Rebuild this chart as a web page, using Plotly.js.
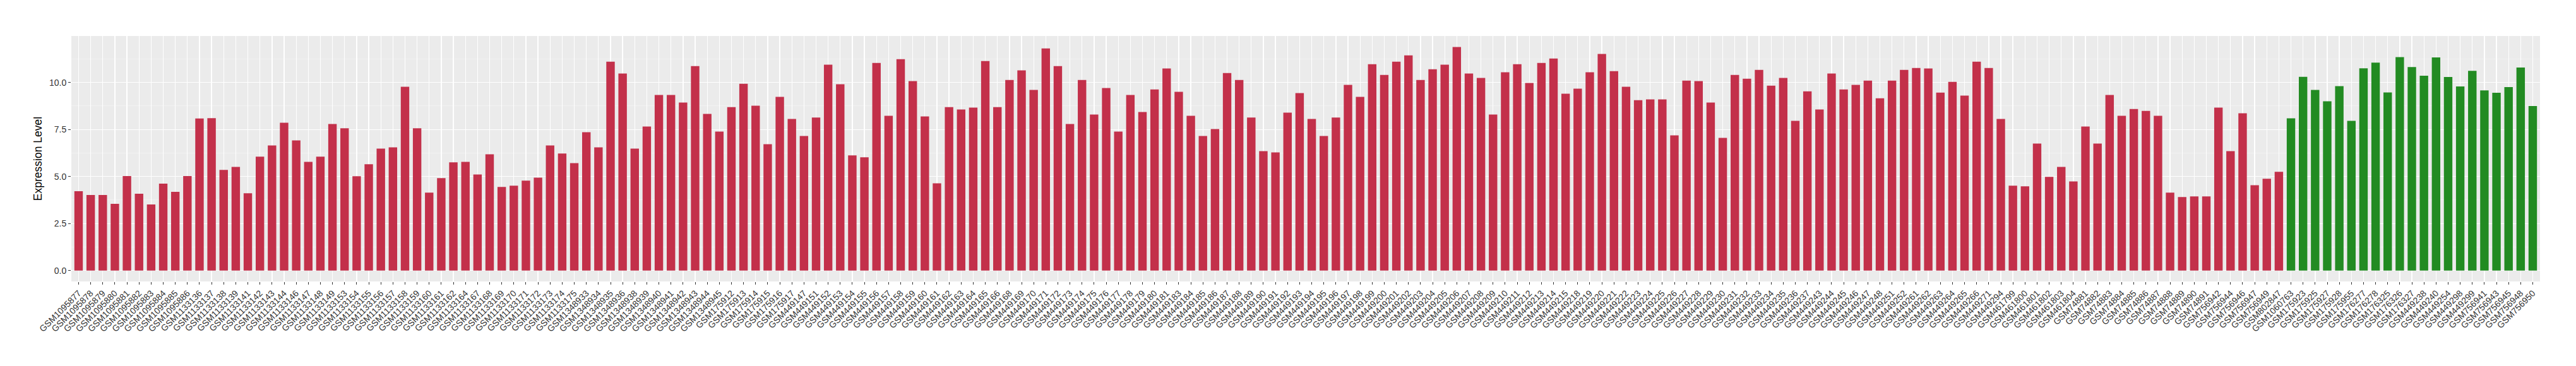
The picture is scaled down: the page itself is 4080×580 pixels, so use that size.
<!DOCTYPE html>
<html>
<head>
<meta charset="utf-8">
<script src="https://cdn.plot.ly/plotly-3.0.1.min.js"></script>
<style>html,body{margin:0;padding:0;background:#fff;}#chart{width:4080px;height:580px;}</style>
</head>
<body>
<div id="chart"></div>
<script>
// Group 1 (red) samples and expression values
const redSamples = [
"GSM1095877","GSM1095878","GSM1095879","GSM1095880","GSM1095881","GSM1095882","GSM1095883","GSM1095884","GSM1095885","GSM1095886",
"GSM1133136","GSM1133137","GSM1133138","GSM1133139","GSM1133141","GSM1133142","GSM1133143","GSM1133144","GSM1133146","GSM1133147",
"GSM1133148","GSM1133149","GSM1133153","GSM1133154","GSM1133155","GSM1133156","GSM1133157","GSM1133158","GSM1133159","GSM1133160",
"GSM1133161","GSM1133162","GSM1133164","GSM1133167","GSM1133168","GSM1133169","GSM1133170","GSM1133171","GSM1133172","GSM1133173",
"GSM1133174","GSM1133175","GSM1348933","GSM1348934","GSM1348935","GSM1348936","GSM1348938","GSM1348939","GSM1348940","GSM1348941",
"GSM1348942","GSM1348943","GSM1348944","GSM1348945","GSM175912","GSM175913","GSM175914","GSM175915","GSM175916","GSM175917",
"GSM449147","GSM449151","GSM449152","GSM449153","GSM449154","GSM449155","GSM449156","GSM449157","GSM449158","GSM449159",
"GSM449160","GSM449161","GSM449162","GSM449163","GSM449164","GSM449165","GSM449166","GSM449168","GSM449169","GSM449170",
"GSM449171","GSM449172","GSM449173","GSM449174","GSM449175","GSM449176","GSM449177","GSM449178","GSM449179","GSM449180",
"GSM449181","GSM449183","GSM449184","GSM449185","GSM449186","GSM449187","GSM449188","GSM449189","GSM449190","GSM449191",
"GSM449192","GSM449193","GSM449194","GSM449195","GSM449196","GSM449197","GSM449198","GSM449199","GSM449200","GSM449201",
"GSM449202","GSM449203","GSM449204","GSM449205","GSM449206","GSM449207","GSM449208","GSM449209","GSM449210","GSM449211",
"GSM449212","GSM449213","GSM449214","GSM449215","GSM449218","GSM449219","GSM449220","GSM449221","GSM449222","GSM449223",
"GSM449224","GSM449225","GSM449226","GSM449227","GSM449228","GSM449229","GSM449230","GSM449231","GSM449232","GSM449233",
"GSM449234","GSM449235","GSM449236","GSM449237","GSM449243","GSM449244","GSM449245","GSM449246","GSM449247","GSM449248",
"GSM449251","GSM449252","GSM449261","GSM449262","GSM449263","GSM449264","GSM449265","GSM449266","GSM449271","GSM449294",
"GSM461799","GSM461800","GSM461801","GSM461802","GSM461803","GSM461804","GSM74881","GSM74882","GSM74883","GSM74884",
"GSM74885","GSM74886","GSM74887","GSM74888","GSM74889","GSM74890","GSM74891","GSM756942","GSM756944","GSM756946",
"GSM756947","GSM756949","GSM802847"
];
const redValues = [
4.22,4.02,4.02,3.55,5.02,4.08,3.51,4.62,4.18,5.02,
8.08,8.10,5.35,5.51,4.11,6.05,6.65,7.86,6.92,5.78,
6.05,7.79,7.56,5.01,5.65,6.48,6.55,9.77,7.56,4.14,
4.91,5.75,5.78,5.11,6.18,4.44,4.51,4.78,4.94,6.65,
6.22,5.71,7.35,6.55,11.10,10.47,6.48,7.66,9.33,9.33,
8.93,10.87,8.33,7.39,8.69,9.93,8.76,6.72,9.23,8.06,
7.15,8.13,10.94,9.90,6.12,6.02,11.04,8.23,11.24,10.07,
8.19,4.64,8.69,8.56,8.66,11.14,8.69,10.13,10.64,9.60,
11.81,10.87,7.79,10.13,8.29,9.70,7.39,9.33,8.43,9.63,
10.74,9.50,8.23,7.15,7.52,10.50,10.13,8.13,6.35,6.28,
8.39,9.43,8.06,7.15,8.13,9.87,9.23,10.97,10.40,11.10,
11.44,10.13,10.70,10.94,11.88,10.47,10.24,8.29,10.54,10.97,
9.97,11.04,11.27,9.40,9.67,10.54,11.51,10.60,9.77,9.06,
9.10,9.10,7.19,10.10,10.07,8.93,7.05,10.40,10.20,10.67,
9.83,10.24,7.96,9.53,8.56,10.47,9.63,9.87,10.10,9.16,
10.10,10.67,10.77,10.74,9.46,10.03,9.30,11.10,10.77,8.06,
4.51,4.48,6.75,4.98,5.51,4.74,7.66,6.75,9.33,8.23,
8.59,8.49,8.23,4.14,3.91,3.94,3.94,8.66,6.35,8.36,
4.54,4.88,5.25
];
// Group 2 (green) samples and expression values
const greenSamples = [
"GSM1060763","GSM175923","GSM175925","GSM175927","GSM175928","GSM175955","GSM176277","GSM176278","GSM176325","GSM176326",
"GSM176327","GSM449238","GSM449240","GSM449254","GSM449298","GSM449299","GSM756941","GSM756943","GSM756945","GSM756948",
"GSM756950"
];
const greenValues = [
8.09,10.30,9.60,9.00,9.80,7.96,10.75,11.05,9.47,11.35,
10.82,10.36,11.33,10.29,9.79,10.62,9.58,9.45,9.75,10.79,
8.75
];
const yTickVals = [0, 2.5, 5, 7.5, 10];
const yTickText = ["0.0", "2.5", "5.0", "7.5", "10.0"];

const FONT = "Liberation Sans, Arial, Helvetica, sans-serif";
const nCats = redSamples.length + greenSamples.length;

const traces = [
  {type: "bar", x: redSamples, y: redValues, width: 0.7,
   marker: {color: "#C3304A", line: {width: 0}}, hoverinfo: "x+y", showlegend: false},
  {type: "bar", x: greenSamples, y: greenValues, width: 0.7,
   marker: {color: "#228B22", line: {width: 0}}, hoverinfo: "x+y", showlegend: false}
];

const layout = {
  width: 4080, height: 580,
  margin: {l: 113, r: 57, t: 57, b: 134, pad: 0},
  paper_bgcolor: "#FFFFFF",
  plot_bgcolor: "#EBEBEB",
  barmode: "overlay",
  font: {family: FONT, color: "#333333"},
  xaxis: {
    type: "category",
    categoryorder: "array",
    categoryarray: redSamples.concat(greenSamples),
    range: [-0.6, nCats - 1 + 0.6],
    showgrid: true, gridcolor: "#FFFFFF", gridwidth: 1.3,
    zeroline: false, showline: false,
    ticks: "outside", ticklen: 4, tickwidth: 1, tickcolor: "#333333",
    tickangle: -45,
    tickfont: {family: FONT, size: 14, color: "#333333"},
    automargin: false, fixedrange: true
  },
  yaxis: {
    range: [-0.58, 12.47],
    tickvals: yTickVals, ticktext: yTickText,
    showgrid: true, gridcolor: "#FFFFFF", gridwidth: 1.3,
    minor: {dtick: 1.25, tick0: 0, showgrid: true, gridcolor: "#F7F7F7", gridwidth: 0.6, ticks: ""},
    zeroline: false, showline: false,
    ticks: "outside", ticklen: 4, tickwidth: 1, tickcolor: "#333333",
    tickfont: {family: FONT, size: 14, color: "#333333"},
    title: {text: "Expression Level", font: {family: FONT, size: 17.5, color: "#000000"}, standoff: 6},
    automargin: false, fixedrange: true
  }
};

Plotly.newPlot("chart", traces, layout, {displayModeBar: false, staticPlot: true});
</script>
</body>
</html>
